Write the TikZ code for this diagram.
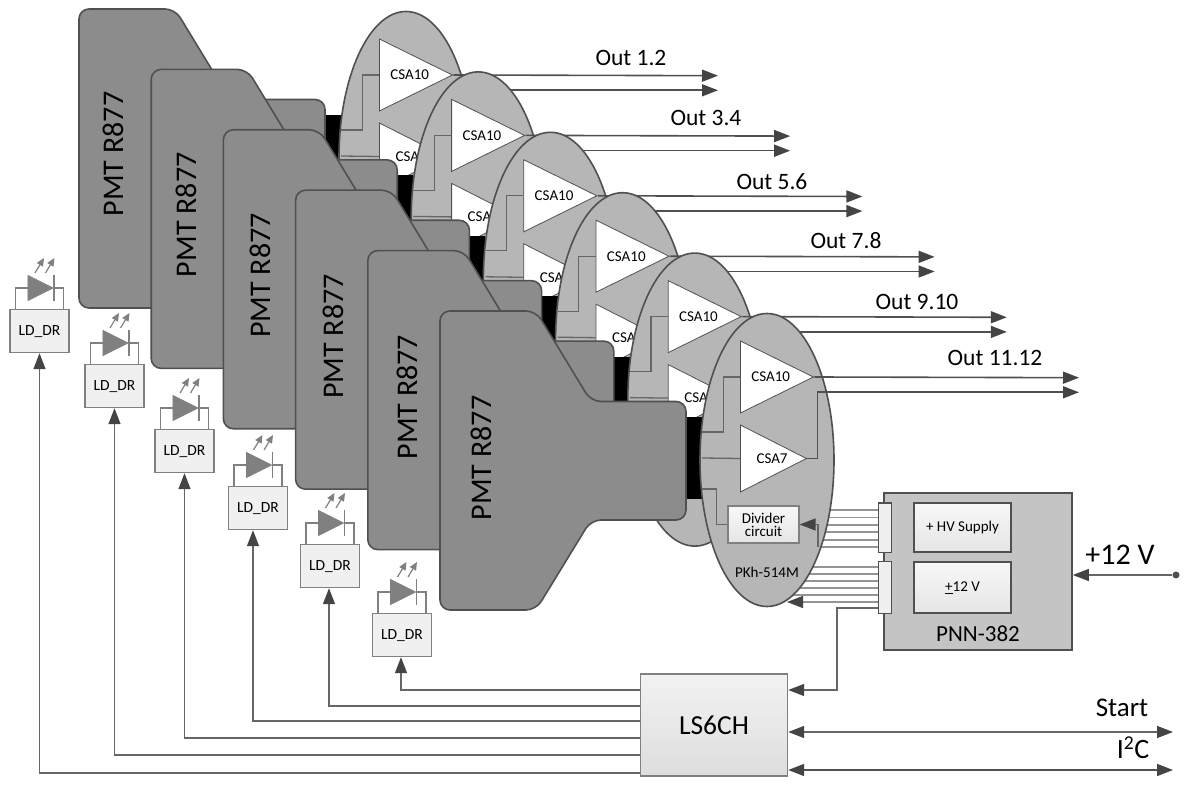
\documentclass[tikz,border=0pt]{standalone}
\usepackage{fontspec}
\setmainfont{Carlito}
\usetikzlibrary{arrows.meta,shapes.geometric}
\definecolor{pmtgray}{HTML}{8C8C8C}
\definecolor{pkgray}{HTML}{B6B6B6}
\definecolor{edgegray}{HTML}{505050}
\definecolor{wiregray}{HTML}{666666}
\definecolor{tipgray}{HTML}{444444}
\tikzset{
  wire/.style={draw=wiregray, line width=1.3pt},
  bus/.style={draw=wiregray!70, line width=1.1pt},
  outline/.style={draw=edgegray, line width=1.6pt},
  pmtbody/.style={outline, fill=pmtgray, rounded corners=10pt},
  pkboard/.style={outline, fill=pkgray, shape=ellipse, inner sep=0pt, minimum width=134pt, minimum height=293pt},
  amp/.style={draw=edgegray, line width=.8pt, fill=white, shape=isosceles triangle, isosceles triangle stretches, inner sep=0pt, anchor=lower side, font=\fontsize{15}{15}\selectfont},
  ldbox/.style={draw=gray, line width=1.2pt, fill=black!6, minimum width=59pt, minimum height=43pt, inner sep=0pt, anchor=north, font=\fontsize{15.5}{15.5}\selectfont},
  diode/.style={draw=gray, line width=.8pt, fill=gray, shape=isosceles triangle, isosceles triangle stretches, inner sep=0pt, minimum width=25pt, minimum height=25pt},
  smallbox/.style={draw=edgegray, line width=1.2pt, top color=black!3, bottom color=black!10, inner sep=0pt, font=\fontsize{15}{15}\selectfont},
  lab/.style={font=\fontsize{23.5}{23.5}\selectfont}
}
\begin{document}
\begin{tikzpicture}[x=1pt,y=-1pt,>={Stealth[length=16pt,width=12pt,inset=0pt,color=tipgray]}]
  \useasboundingbox (0,0) rectangle (1184,791);
  % power unit
  \node[outline, fill=black!23, minimum width=188pt, minimum height=157pt, inner sep=0pt] (pnn) at (978,571.5) {};
  \node[smallbox, minimum width=97pt, minimum height=49pt] (hv) at (962.5,527.5) {+ HV Supply};
  \node[smallbox, minimum width=97pt, minimum height=51pt] (lv) at (962.5,587.5) {\underline{+}12 V};
  \node[font=\fontsize{23}{23}\selectfont] (pnnlab) at (978,634) {PNN-382};
  \node[draw=edgegray, line width=1pt, fill=black!6, minimum width=13pt, minimum height=49pt, inner sep=0pt] (porta) at (884.5,527.5) {};
  \node[draw=edgegray, line width=1pt, fill=black!6, minimum width=13pt, minimum height=52pt, inner sep=0pt] (portb) at (884.5,587) {};
  % flat cables, hidden by the board
  \foreach \d in {17.5,10,2.5,-4.5,-12.5,-19.5}
    \draw[bus] ([yshift=\d pt]porta.west) -- ++(-100,0);
  \foreach \d in {20,13,6,-1,-8}
    \draw[bus] ([yshift=\d pt]portb.west) -- ++(-100,0);
  % six channels, back to front
  \foreach \i in {1,...,6} {
    \begin{scope}[shift={({(\i-6)*72.2},{(\i-6)*60.4})}]
      \coordinate (outa\i) at (1079,377.7);
      \coordinate (outb\i) at (1079,392.3);
      \node[fill=black, minimum width=16pt, minimum height=82pt, inner sep=0pt] (bk\i) at (694,458) {};
      \node[pkboard] (pk\i) at (767,460) {};
      \node[amp, minimum width=72pt, minimum height=73pt] (csa\i) at (740,377) {\hspace*{5pt}CSA10};
      \node[amp, minimum width=67pt, minimum height=66pt] (csb\i) at (740,458.5) {\hspace*{12pt}CSA7};
      \draw[outline, ->] (csa\i.apex) -- (outa\i);
      \draw[outline, ->] (csb\i.apex) -- ++(10,0) |- (outb\i);
      \draw[wire] ([yshift=26pt]bk\i.east) -- ++(21,0) |- (csa\i.lower side);
      \draw[wire] (bk\i.east) -- (csb\i.lower side);
      \draw[pmtbody] (440,311) -- (536,311) -- (591,401.5) -- (686,401.5) -- (686,520) -- (591,520) -- (536,610) -- (440,610) -- cycle;
      \node[rotate=90, font=\fontsize{30}{30}\selectfont] (pmt\i) at ({481+(\i-6)*1.4},{458+(\i-6)*.4}) {PMT R877};
    \end{scope}
  }
  % divider on the front board
  \node[smallbox, draw=gray, minimum width=71pt, minimum height=37pt, align=center] (div) at (763.5,524.5) {Divider\\[-2pt]circuit};
  \node[font=\fontsize{15}{15}\selectfont] (pkname) at (767,572) {PKh-514M};
  \draw[wire] ([yshift=-31pt]bk6.east) -- ++(14,0) |- (div.west);
  \coordinate (tap) at (818,547);
  \draw[wire,->] (tap) |- (div.east);
  \coordinate (tapb) at (787,602);
  \draw[bus,->] ([yshift=-15pt]portb.west) -- (tapb);
  % output labels
  \foreach \x/\y/\t in {631/58/Out 1.2,706/118/Out 3.4,772/182/Out 5.6,846/241/Out 7.8,917/302/Out 9.10,995/358/Out 11.12}
    \node[lab] (lab\x) at (\x,\y) {\t};
  % control block
  \node[draw=gray, line width=1.4pt, top color=black!5, bottom color=black!13, minimum width=147pt, minimum height=102pt, inner sep=0pt, font=\fontsize{27.5}{27.5}\selectfont] (ls) at (714,725) {LS6CH};
  \coordinate (bend) at (837,690);
  \draw[wire,->] ([yshift=-21pt]portb.west) -| (bend) -- (ls.east |- bend);
  \coordinate (startend) at (1173,732);
  \coordinate (i2cend) at (1173,770);
  \draw[wire,<->] (ls.east |- startend) -- (startend);
  \draw[outline,<->] (ls.east |- i2cend) -- (i2cend);
  \node[font=\fontsize{27}{27}\selectfont] (startlab) at (1122,708) {Start};
  \node[font=\fontsize{28}{28}\selectfont] (i2clab) at (1133,748) {I\textsuperscript{2}C};
  % supply input
  \node[circle, fill=edgegray, inner sep=0pt, minimum size=7pt] (dot) at (1176,575) {};
  \draw[wire,->] (dot) -- (pnn.east |- dot);
  \node[font=\fontsize{30}{30}\selectfont] (vlab) at (1120,555) {+12 V};
  % laser drivers
  \foreach \i/\x/\y/\w/\ax in {1/39.5/309/773/39.5,2/114.5/364/755/114.5,3/184.5/429/738/184.5,4/258/486/721/253,5/330/544/706/329,6/402/613/690/401} {
    \node[ldbox] (ld\i) at (\x,\y) {LD\_DR};
    \node[diode, anchor=lower side] (dd\i) at (\x-12,\y-21) {};
    \draw[gray, line width=1.2pt] ([xshift=-24pt]ld\i.north) |- (dd\i.lower side);
    \draw[gray, line width=1.2pt] (dd\i.apex) -| ([xshift=24pt]ld\i.north);
    \draw[gray, line width=1.2pt] ([yshift=13pt]dd\i.apex) -- ([yshift=-13pt]dd\i.apex);
    \draw[gray, line width=1.2pt, -{Stealth[length=8pt,width=7pt,inset=0pt]}] (\x-4.5,\y-36) -- ++(9,-15);
    \draw[gray, line width=1.2pt, -{Stealth[length=8pt,width=7pt,inset=0pt]}] (\x+6,\y-36) -- ++(9,-15);
    \coordinate (lt\i) at (\ax,\w);
    \draw[wire,->] (ls.west |- lt\i) -| (ld\i.south -| lt\i);
  }
\end{tikzpicture}
\end{document}
